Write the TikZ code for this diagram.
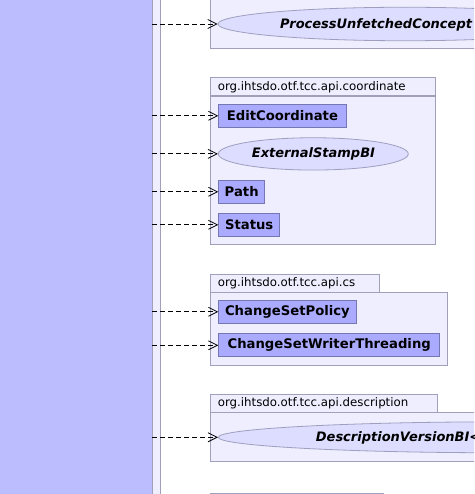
\documentclass[tikz,border=0pt]{standalone}
\usepackage{fontspec}
\setmainfont{DejaVu Sans}
\usetikzlibrary{arrows.meta,shapes.geometric}

\definecolor{panelfill}{RGB}{187,189,255}
\definecolor{panelline}{RGB}{118,118,150}
\definecolor{stripfill}{RGB}{238,238,255}
\definecolor{pkgfill}{RGB}{238,238,255}
\definecolor{pkgline}{RGB}{160,160,186}
\definecolor{clsfill}{RGB}{170,170,255}
\definecolor{clsline}{RGB}{118,118,176}
\definecolor{iffill}{RGB}{221,221,255}
\definecolor{ifline}{RGB}{158,158,190}

\tikzset{
  pkgtab/.style={draw=pkgline, fill=pkgfill, line width=0.8pt, anchor=south west,
    minimum height=18pt, inner xsep=7pt, inner ysep=0pt, align=left,
    font=\fontsize{11.8}{13}\selectfont},
  pkgbody/.style={draw=pkgline, fill=pkgfill, line width=0.8pt},
  cls/.style={draw=clsline, fill=clsfill, line width=0.8pt, anchor=west,
    minimum height=23pt, inner sep=0pt, font=\fontsize{13.2}{15}\selectfont\bfseries},
  iface/.style={ellipse, draw=ifline, fill=iffill, line width=0.8pt, inner sep=0pt},
  ifacetext/.style={anchor=west, inner sep=0pt, font=\fontsize{13}{15}\selectfont\bfseries\itshape},
  dep/.style={line width=0.8pt, dash pattern=on 5pt off 3pt,
    -{Straight Barb[length=9pt,width=9pt]}},
}

\begin{document}
\begin{tikzpicture}[x=1pt,y=-1pt]
\path[use as bounding box, clip] (0,0) rectangle (474,494);

% client class on the left and its border strip
\node[draw=panelline, fill=panelfill, line width=0.8pt, anchor=north east,
      minimum width=170pt, minimum height=520pt, inner sep=0pt] (panel) at (152.4,-12) {};
\draw[draw=pkgline, fill=stripfill, line width=0.8pt] (152.4,-12) rectangle (160.2,510);

% package (top, header out of view)
\draw[pkgbody] (210.4,-12) rectangle (560,48);
\node[iface, minimum width=374pt, minimum height=33.5pt] (puc) at (405,24) {};
\node[ifacetext] (puct) at (280,24.5) {ProcessUnfetchedConcept};

% package org.ihtsdo.otf.tcc.api.coordinate
\node[pkgtab, text width=211pt] (tabcoord) at (210.4,96.3) {org.ihtsdo.otf.tcc.api.coordinate};
\draw[pkgbody] (210.4,96.3) rectangle (435.6,244);
\node[cls, minimum width=127.4pt] (editc) at (218.3,115.8) {EditCoordinate};
\node[iface, minimum width=190pt, minimum height=32.3pt] (ext) at (313.3,153.9) {};
\node[ifacetext] (extt) at (251.7,154.4) {ExternalStampBI};
\node[cls, minimum width=46pt] (path) at (218.3,191.8) {Path};
\node[cls, minimum width=61pt] (status) at (218.3,224.8) {Status};

% package org.ihtsdo.otf.tcc.api.cs
\node[pkgtab, text width=155pt] (tabcs) at (210.4,292.3) {org.ihtsdo.otf.tcc.api.cs};
\draw[pkgbody] (210.4,292.3) rectangle (447.3,365.3);
\node[cls, minimum width=137.4pt] (csp) at (218.3,311.8) {ChangeSetPolicy};
\node[cls, minimum width=221pt] (cswt) at (218.3,345.3) {ChangeSetWriterThreading};

% package org.ihtsdo.otf.tcc.api.description
\node[pkgtab, text width=213pt] (tabdesc) at (210.4,412.3) {org.ihtsdo.otf.tcc.api.description};
\draw[pkgbody] (210.4,412.3) rectangle (560,461);
\node[iface, minimum width=576pt, minimum height=31pt] (dvb) at (506.3,437.3) {};
\node[ifacetext] (dvbt) at (315.7,437.8) {DescriptionVersionBI<};

% next package, only its header edge is in view
\node[pkgtab, text width=159pt] (tabnext) at (210.4,512) {};

% dependencies
\draw[dep] (panel.east |- puc.west) -- (puc.west);
\draw[dep] (panel.east |- editc.west) -- (editc.west);
\draw[dep] (panel.east |- ext.west) -- (ext.west);
\draw[dep] (panel.east |- path.west) -- (path.west);
\draw[dep] (panel.east |- status.west) -- (status.west);
\draw[dep] (panel.east |- csp.west) -- (csp.west);
\draw[dep] (panel.east |- cswt.west) -- (cswt.west);
\draw[dep] (panel.east |- dvb.west) -- (dvb.west);
\end{tikzpicture}
\end{document}
